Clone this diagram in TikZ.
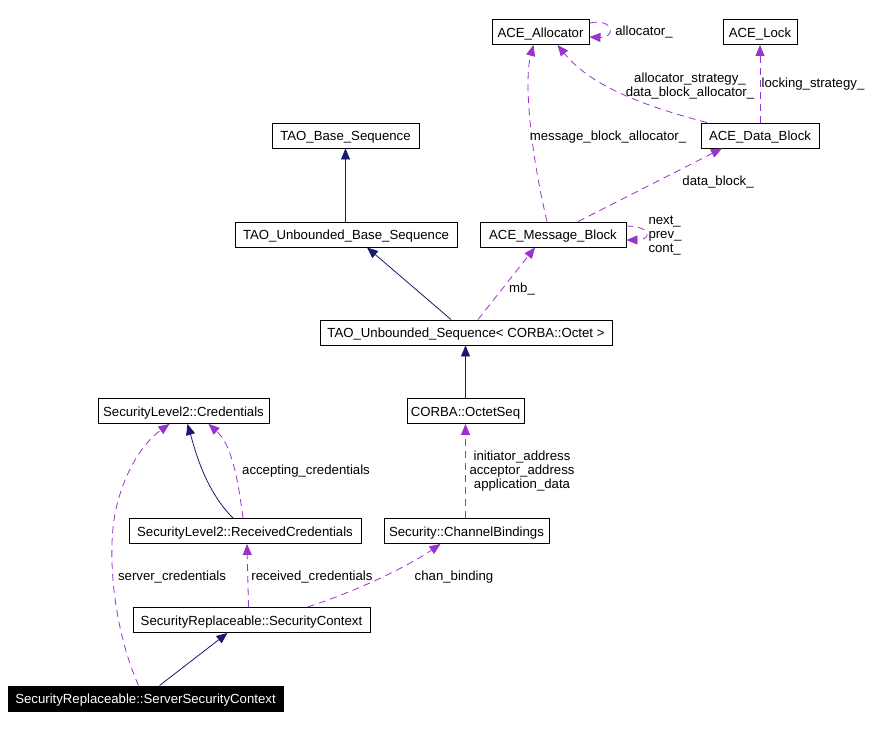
\documentclass[tikz,border=0pt]{standalone}
\usepackage{fontspec}
\setmainfont{Liberation Sans}
\usetikzlibrary{arrows.meta}
\definecolor{inh}{HTML}{191970}
\definecolor{use}{HTML}{9A32CD}
\begin{document}
\begin{tikzpicture}[x=1pt,y=-1pt,
  every node/.style={font=\fontsize{13.2}{14}\selectfont},
  box/.style={draw=black, line width=0.9pt, inner sep=0pt, minimum height=25pt, text height=12pt, text depth=2pt, fill=white},
  lbl/.style={inner sep=0pt, align=center},
  inhedge/.style={draw=inh, line width=0.8pt, -{Triangle[length=11pt,width=9pt]}},
  useedge/.style={draw=use, line width=0.8pt, dash pattern=on 7pt off 5pt, -{Triangle[length=11pt,width=9pt]}}]
\useasboundingbox (0,0) rectangle (872,728);
\fill[white] (0,0) rectangle (872,728);
% nodes
\node[box, minimum width=97pt] (alloc) at (540.5,32) {ACE\_Allocator};
\node[box, minimum width=74pt] (lock) at (760,32) {ACE\_Lock};
\node[box, minimum width=147pt] (tbs) at (345.5,135.5) {TAO\_Base\_Sequence};
\node[box, minimum width=118pt] (adb) at (760,135.5) {ACE\_Data\_Block};
\node[box, minimum width=222pt] (tubs) at (346,234.5) {TAO\_Unbounded\_Base\_Sequence};
\node[box, minimum width=146pt] (amb) at (553,234.5) {ACE\_Message\_Block};
\node[box, minimum width=292pt] (tus) at (466,332.5) {TAO\_Unbounded\_Sequence< CORBA::Octet >};
\node[box, minimum width=171pt] (cred) at (183.5,411) {SecurityLevel2::Credentials};
\node[box, minimum width=117pt] (oseq) at (465.5,411) {CORBA::OctetSeq};
\node[box, minimum width=232pt] (rcred) at (245,531) {SecurityLevel2::ReceivedCredentials};
\node[box, minimum width=165pt] (cb) at (466.5,531) {Security::ChannelBindings};
\node[box, minimum width=237pt] (sc) at (251.5,620) {SecurityReplaceable::SecurityContext};
\node[box, fill=black, text=white, minimum width=275pt] (ssc) at (145.5,698.5) {SecurityReplaceable::ServerSecurityContext};
% inheritance edges
\draw[inhedge] (tubs.north -| tbs.south) -- (tbs.south);
\draw[inhedge] ([xshift=-15pt]tus.north) -- ([xshift=21pt]tubs.south);
\draw[inhedge] (oseq.north) -- (oseq.north |- tus.south);
\draw[inhedge] ([xshift=-12pt]rcred.north) .. controls (205,490) and (195,450) .. ([xshift=4pt]cred.south);
\draw[inhedge] ([xshift=14pt]ssc.north) -- ([xshift=-24pt]sc.south);
% usage edges
\draw[useedge] (590,23) .. controls (614,18) and (616,38) .. (alloc.east |- 0,37);
\draw[useedge] (amb.north) ++(-6,0) .. controls (530,150) and (524,80) .. ([xshift=-7pt]alloc.south);
\draw[useedge] ([xshift=-53pt]adb.north) .. controls (640,105) and (590,85) .. ([xshift=17pt]alloc.south);
\draw[useedge] (lock.south |- adb.north) -- (lock.south);
\draw[useedge] ([xshift=25pt]amb.north) -- ([xshift=-38pt]adb.south);
\draw[useedge] (626,226) .. controls (652,226) and (652,240) .. (amb.east |- 0,240);
\draw[useedge] ([xshift=12pt]tus.north) -- ([xshift=-18pt]amb.south);
\draw[useedge] (cb.north -| oseq.south) -- (oseq.south);
\draw[useedge] ([xshift=-2pt]rcred.north) .. controls (238,480) and (232,445) .. ([xshift=25pt]cred.south);
\draw[useedge] ([xshift=-7pt]ssc.north) .. controls (114,630) and (108,560) .. (114,520) .. controls (120,480) and (140,445) .. ([xshift=-14pt]cred.south);
\draw[useedge] ([xshift=-3pt]sc.north) -- ([xshift=2pt]rcred.south);
\draw[useedge] ([xshift=56pt]sc.north) .. controls (360,590) and (410,565) .. ([xshift=-26pt]cb.south);
% labels
\node[lbl] (l1) at (644,32.5) {allocator\_};
\node[lbl] (l2) at (690,86) {allocator\_strategy\_\\data\_block\_allocator\_};
\node[lbl] (l3) at (813,84.5) {locking\_strategy\_};
\node[lbl] (l4) at (608,137.5) {message\_block\_allocator\_};
\node[lbl] (l5) at (718,182.5) {data\_block\_};
\node[lbl, align=left] (l6) at (665,236) {next\_\\prev\_\\cont\_};
\node[lbl] (l7) at (522,289.5) {mb\_};
\node[lbl] (l8) at (522,471.5) {initiator\_address\\acceptor\_address\\application\_data};
\node[lbl] (l9) at (306,471.5) {accepting\_credentials};
\node[lbl] (l10) at (172,577.5) {server\_credentials};
\node[lbl] (l11) at (312,577.5) {received\_credentials};
\node[lbl] (l12) at (454,577.5) {chan\_binding};
\end{tikzpicture}
\end{document}
